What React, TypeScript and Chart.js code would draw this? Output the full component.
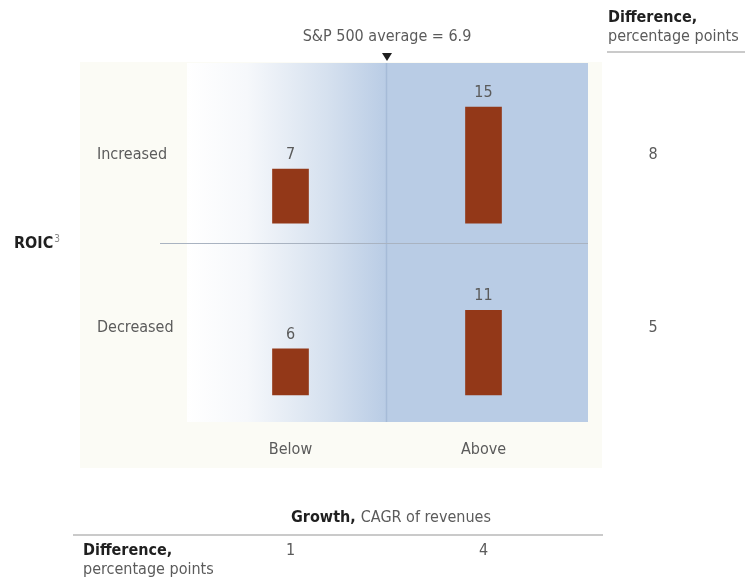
import React, { useEffect, useRef } from "react";
import { Chart, registerables } from "chart.js";

Chart.register(...registerables);

// Growth groups (columns) and ROIC groups (rows)
const growthGroups = ["Below", "Above"];
const roicGroups = ["Increased", "Decreased"];

// Average excess TRS, %, for each quadrant
const increasedValues = [7, 15];
const decreasedValues = [6, 11];

const benchmarkLabel = "S&P 500 average = 6.9";

const FONT = '"Liberation Sans Narrow", "DejaVu Sans Condensed", "Arial Narrow", sans-serif';
const TEXT = "#5b5b5b";
const DARK = "#1f1f1f";
const BAR = "#933818";
const BLUE = "#b9cce5";

const quadrantPlugin = {
  id: "quadrant",
  beforeDatasetsDraw(chart: any) {
    const { ctx, chartArea, scales } = chart;
    const x = scales.x;
    const yTop = scales.yTop;
    const midX = Math.round((x.getPixelForValue(0) + x.getPixelForValue(1)) / 2) - 0.5;
    const left = chartArea.left - 7;
    const right = chartArea.right + 8;
    const top = chartArea.top;
    const bottom = chartArea.bottom;
    const rowSplit = Math.round(yTop.bottom) + 0.5;
    ctx.save();
    // cream panel behind the matrix
    ctx.fillStyle = "#fbfbf5";
    ctx.fillRect(80, top - 1, right + 14 - 80, bottom + 46 - (top - 1));
    // below-average half: white fading into blue
    const g = ctx.createLinearGradient(left, 0, midX, 0);
    g.addColorStop(0, "#ffffff");
    g.addColorStop(0.3, "#f6f8fb");
    g.addColorStop(0.7, "#d6e1ef");
    g.addColorStop(1, BLUE);
    ctx.fillStyle = g;
    ctx.fillRect(left, top, midX - left, bottom - top);
    // above-average half
    ctx.fillStyle = BLUE;
    ctx.fillRect(midX, top, right - midX, bottom - top);
    // benchmark divider
    ctx.strokeStyle = "#a6bbd8";
    ctx.lineWidth = 1.5;
    ctx.beginPath();
    ctx.moveTo(midX, top);
    ctx.lineTo(midX, bottom);
    ctx.stroke();
    // row divider
    ctx.strokeStyle = "#a9b3c1";
    ctx.lineWidth = 1;
    ctx.beginPath();
    ctx.moveTo(160, rowSplit);
    ctx.lineTo(right, rowSplit);
    ctx.stroke();
    ctx.restore();
  },
  afterDatasetsDraw(chart: any) {
    const { ctx, chartArea, scales } = chart;
    const x = scales.x;
    const yTop = scales.yTop;
    const yBottom = scales.yBottom;
    const midX = (x.getPixelForValue(0) + x.getPixelForValue(1)) / 2;
    const right = chartArea.right + 8;
    ctx.save();
    ctx.textAlign = "center";
    ctx.textBaseline = "middle";

    // values above each bar
    ctx.font = `16px ${FONT}`;
    ctx.fillStyle = TEXT;
    chart.data.datasets.forEach((ds: any, di: number) => {
      const meta = chart.getDatasetMeta(di);
      meta.data.forEach((bar: any, i: number) => {
        ctx.fillText(String(ds.data[i]), bar.x, bar.y - 14);
      });
    });

    // benchmark marker
    ctx.fillText(benchmarkLabel, midX, 37);
    ctx.fillStyle = DARK;
    ctx.beginPath();
    ctx.moveTo(midX - 5, 53);
    ctx.lineTo(midX + 5, 53);
    ctx.lineTo(midX, 61);
    ctx.closePath();
    ctx.fill();

    // row labels and row differences
    const rowY = [
      (yTop.top + yTop.bottom) / 2 + 2,
      (yBottom.top + yBottom.bottom) / 2 - 4,
    ];
    const rowDiffs = [
      increasedValues[1] - increasedValues[0],
      decreasedValues[1] - decreasedValues[0],
    ];
    ctx.fillStyle = TEXT;
    ctx.textAlign = "left";
    roicGroups.forEach((label, r) => ctx.fillText(label, 97, rowY[r]));
    ctx.textAlign = "center";
    rowDiffs.forEach((d, r) => ctx.fillText(String(d), 653, rowY[r]));

    // column labels and column differences
    const colDiffs = growthGroups.map((_, c) => increasedValues[c] - decreasedValues[c]);
    growthGroups.forEach((label, c) => {
      const cx = x.getPixelForValue(c);
      ctx.fillText(label, cx, 450);
      ctx.fillText(String(colDiffs[c]), cx, 551);
    });

    // y title
    ctx.textAlign = "left";
    ctx.font = `bold 16px ${FONT}`;
    ctx.fillStyle = DARK;
    ctx.fillText("ROIC", 14, 244);
    const w = ctx.measureText("ROIC").width;
    ctx.font = `10px ${FONT}`;
    ctx.fillStyle = "#888";
    ctx.fillText("3", 14 + w + 1, 239);

    // x title
    ctx.font = `bold 16px ${FONT}`;
    const g1 = "Growth,";
    const g1w = ctx.measureText(g1 + " ").width;
    ctx.font = `16px ${FONT}`;
    const g2 = "CAGR of revenues";
    const g2w = ctx.measureText(g2).width;
    const gx = midX + 4 - (g1w + g2w) / 2;
    ctx.font = `bold 16px ${FONT}`;
    ctx.fillStyle = DARK;
    ctx.fillText(g1, gx, 518);
    ctx.font = `16px ${FONT}`;
    ctx.fillStyle = TEXT;
    ctx.fillText(g2, gx + g1w, 518);

    // difference headers
    const header = (hx: number, hy: number) => {
      ctx.font = `bold 16px ${FONT}`;
      ctx.fillStyle = DARK;
      ctx.fillText("Difference,", hx, hy);
      ctx.font = `16px ${FONT}`;
      ctx.fillStyle = TEXT;
      ctx.fillText("percentage points", hx, hy + 19);
    };
    header(608, 18);
    header(83, 551);

    // rules
    ctx.strokeStyle = "#b9b9b9";
    ctx.lineWidth = 1.5;
    ctx.beginPath();
    ctx.moveTo(607, 52);
    ctx.lineTo(745, 52);
    ctx.moveTo(73, 535);
    ctx.lineTo(right + 15, 535);
    ctx.stroke();
    ctx.restore();
  },
};

export default function App() {
  const canvasRef = useRef<HTMLCanvasElement | null>(null);

  useEffect(() => {
    const canvas = canvasRef.current;
    if (!canvas) return;
    const chart = new Chart(canvas, {
      type: "bar",
      data: {
        labels: growthGroups,
        datasets: [
          {
            label: roicGroups[0],
            data: increasedValues,
            yAxisID: "yTop",
            backgroundColor: BAR,
            barThickness: 36,
            grouped: false,
          },
          {
            label: roicGroups[1],
            data: decreasedValues,
            yAxisID: "yBottom",
            backgroundColor: BAR,
            barThickness: 36,
            grouped: false,
          },
        ],
      },
      options: {
        responsive: false,
        animation: false,
        devicePixelRatio: 1,
        layout: { padding: { left: 194, right: 166, top: 63, bottom: 159 } },
        plugins: {
          legend: { display: false },
          tooltip: { enabled: false },
        },
        scales: {
          x: { type: "category", offset: true, display: false },
          yBottom: {
            type: "linear",
            position: "left",
            stack: "roic",
            stackWeight: 1,
            min: -3.5,
            max: 19.8,
            display: false,
          },
          yTop: {
            type: "linear",
            position: "left",
            stack: "roic",
            stackWeight: 1,
            min: -2.5,
            max: 20.7,
            display: false,
          },
        },
      },
      plugins: [quadrantPlugin],
    });
    return () => chart.destroy();
  }, []);

  return (
    <div style={{ position: "absolute", left: 0, top: 0, width: 746, height: 581, background: "#ffffff" }}>
      <canvas ref={canvasRef} width={746} height={581} />
    </div>
  );
}
